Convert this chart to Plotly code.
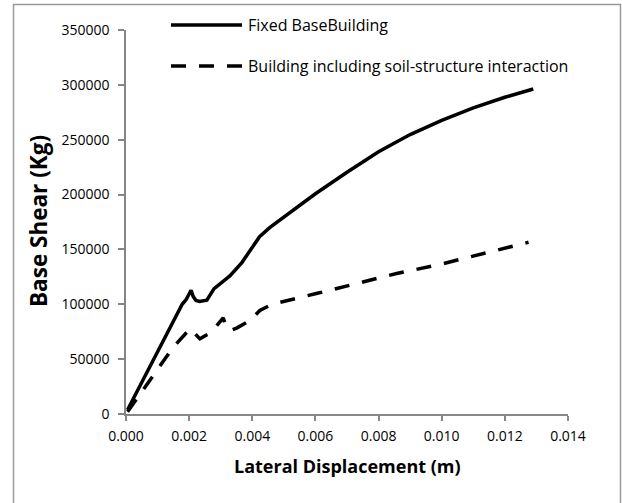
import plotly.graph_objects as go

# Data
disp_fixed = [0.00005, 0.0009, 0.00178, 0.00191, 0.00206, 0.00213, 0.00222, 0.00233,
              0.00256, 0.00279, 0.00300, 0.00329, 0.00367, 0.00423, 0.00455, 0.00500,
              0.00600, 0.00700, 0.00800, 0.00900, 0.01000, 0.01100, 0.01200, 0.01290]
shear_fixed = [3900, 51000, 100000, 104600, 112800, 107000, 103500, 102500,
               103700, 114300, 119500, 125800, 138000, 161600, 169800, 179500,
               200700, 220400, 239000, 254700, 267700, 279000, 288700, 296200]

disp_ssi = [0.00005, 0.0005, 0.0010, 0.0015, 0.00203, 0.00234, 0.00271, 0.00300,
            0.00308, 0.00318, 0.00335, 0.00352, 0.00393, 0.00424, 0.00462, 0.00606,
            0.00857, 0.00995, 0.01275]
shear_ssi = [2000, 20000, 40000, 61000, 77800, 68500, 74700, 84000,
             87700, 78000, 76500, 78500, 85200, 94400, 100000, 110000,
             128000, 136400, 156500]

series_names = ["Fixed BaseBuilding", "Building including soil-structure interaction"]

x_ticks = [0.000, 0.002, 0.004, 0.006, 0.008, 0.010, 0.012, 0.014]
y_ticks = [0, 50000, 100000, 150000, 200000, 250000, 300000, 350000]

FONT = "Open Sans"
AXIS_COLOR = "#868686"
DASH = "15px,13px"

fig = go.Figure()
fig.add_trace(go.Scatter(x=disp_fixed, y=shear_fixed, mode="lines", name=series_names[0],
                         line=dict(color="black", width=3.5), showlegend=False))
fig.add_trace(go.Scatter(x=disp_ssi, y=shear_ssi, mode="lines", name=series_names[1],
                         line=dict(color="black", width=3.5, dash=DASH),
                         showlegend=False))

# plot area: x 126..568, y 30..414 in a 622x503 page
L, R, T, B = 126, 54, 30, 89
W, H = 622 - L - R, 503 - T - B

def px(xp):
    return (xp - L) / W

def py(yp):
    return (503 - B - yp) / H

shapes = [
    # outer chart frame
    dict(type="rect", xref="paper", yref="paper", x0=px(13.5), x1=px(620.5), y0=py(520), y1=py(4.5),
         line=dict(color="#9a9a9a", width=1.5), fillcolor="rgba(0,0,0,0)", layer="below"),
    # legend samples
    dict(type="line", xref="paper", yref="paper", x0=px(171), x1=px(242), y0=py(25), y1=py(25),
         line=dict(color="black", width=3.5)),
    dict(type="line", xref="paper", yref="paper", x0=px(171), x1=px(242), y0=py(66), y1=py(66),
         line=dict(color="black", width=3.5, dash=DASH)),
]

annotations = [
    dict(text=series_names[0], xref="paper", yref="paper", x=px(246), y=py(25),
         xanchor="left", yanchor="middle", showarrow=False,
         font=dict(family=FONT, size=16, color="black")),
    dict(text=series_names[1], xref="paper", yref="paper", x=px(246), y=py(66),
         xanchor="left", yanchor="middle", showarrow=False,
         font=dict(family=FONT, size=16, color="black")),
    dict(text="<b>Lateral Displacement (m)</b>", xref="paper", yref="paper", x=px(347), y=py(466),
         xanchor="center", yanchor="middle", showarrow=False,
         font=dict(family=FONT, size=18, color="black")),
    dict(text="<b>Base Shear (Kg)</b>", xref="paper", yref="paper", x=px(38), y=py(221),
         xanchor="center", yanchor="middle", showarrow=False, textangle=-90,
         font=dict(family=FONT, size=22.5, color="black")),
]

fig.update_layout(
    width=622, height=503,
    margin=dict(l=L, r=R, t=T, b=B),
    paper_bgcolor="white", plot_bgcolor="white",
    font=dict(family=FONT, size=14, color="black"),
    shapes=shapes, annotations=annotations,
    showlegend=False,
)
fig.update_xaxes(range=[0, 0.014], tickvals=x_ticks, tickformat=".3f",
                 showgrid=False, zeroline=False, showline=True, linecolor=AXIS_COLOR, linewidth=1.5,
                 ticks="outside", ticklen=5, tickcolor=AXIS_COLOR, tickwidth=1.5,
                 ticklabelstandoff=3,
                 tickfont=dict(family=FONT, size=14, color="black"))
fig.update_yaxes(range=[0, 350000], tickvals=y_ticks, tickformat="d",
                 showgrid=False, zeroline=False, showline=True, linecolor=AXIS_COLOR, linewidth=1.5,
                 ticks="outside", ticklen=6, tickcolor=AXIS_COLOR, tickwidth=1.5,
                 ticklabelstandoff=6,
                 tickfont=dict(family=FONT, size=14, color="black"))

fig.write_html("out.html", config={"displayModeBar": False},
               post_script="document.body.style.margin='0';document.body.style.overflow='hidden';")
